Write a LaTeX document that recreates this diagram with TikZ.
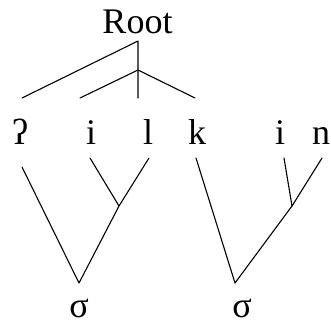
\documentclass[tikz,border=0pt]{standalone}
\usepackage{fontspec}
\setmainfont{Liberation Serif}
\usetikzlibrary{positioning}

\begin{document}
\begin{tikzpicture}[x=1pt,y=-1pt,line join=round,line cap=round,
  seg/.style={line width=1.1pt},
  lbl/.style={anchor=base,inner sep=0pt,font=\fontsize{36}{38}\selectfont}]
  \useasboundingbox (0,0) rectangle (331,324);

  % labels
  \node[lbl] (R) at (137.5,33) {Root};
  \node[lbl] (gs) at (20,144) {ʔ};
  \node[lbl] (i1) at (91,144) {i};
  \node[lbl] (l) at (148,144) {l};
  \node[lbl] (k) at (197,144) {k};
  \node[lbl] (i2) at (280,144) {i};
  \node[lbl] (n) at (321,144) {n};
  \node[lbl] (s1) at (79,317) {σ};
  \node[lbl] (s2) at (242,317) {σ};

  % root
  \coordinate (rt) at (138,41);
  \coordinate (j) at (138,70);
  \coordinate (gsT) at (22,98);
  \coordinate (i1T) at (80,98);
  \coordinate (lT) at (138,98);
  \coordinate (kT) at (195,98);
  \draw[seg] (gsT)--(rt)--(lT);
  \draw[seg] (i1T)--(j)--(kT);

  % syllables
  \coordinate (gsB) at (22,167);
  \coordinate (i1B) at (90,158);
  \coordinate (lB) at (149,158);
  \coordinate (kB) at (196,158);
  \coordinate (i2B) at (284,158);
  \coordinate (nB) at (322,158);
  \coordinate (a) at (119,206);
  \coordinate (b) at (292,206);
  \coordinate (v1) at (79,283);
  \coordinate (v2) at (235,283);
  \draw[seg] (gsB)--(v1)--(a)--(lB);
  \draw[seg] (i1B)--(a);
  \draw[seg] (kB)--(v2)--(b)--(nB);
  \draw[seg] (i2B)--(b);
\end{tikzpicture}
\end{document}
